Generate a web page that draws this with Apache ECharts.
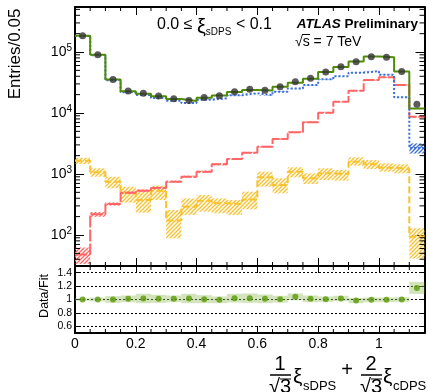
<!DOCTYPE html>
<html>
<head>
<meta charset="utf-8">
<script src="https://cdn.jsdelivr.net/npm/echarts@6/dist/echarts.min.js"></script>
<style>
  html, body { margin: 0; padding: 0; background: #fff; }
  #chart { width: 428px; height: 392px; }
</style>
</head>
<body>
<div id="chart"></div>
<script>
// bin edges of the histogram (width 0.05)
const binEdges = [0, 0.05, 0.1, 0.15, 0.2, 0.25, 0.3, 0.35, 0.4, 0.45, 0.5, 0.55, 0.6, 0.65, 0.7, 0.75, 0.8, 0.85, 0.9, 0.95, 1.0, 1.05, 1.1, 1.15];

// data points (black dots)
const dataCounts = [185000, 90000, 35500, 23000, 21000, 19000, 17200, 16000, 17900, 19200, 22400, 24400, 23500, 27000, 32600, 37000, 47000, 57500, 69000, 84000, 82000, 48000, 13900];
// total fit (green)
const fitTotal = [185000, 90000, 35500, 22800, 20700, 18800, 17000, 15800, 17800, 19300, 22000, 23900, 23300, 26900, 31300, 36600, 46800, 56700, 70000, 84400, 82400, 48000, 11850];
// components
const blueComp = [183000, 88500, 34300, 21800, 19800, 17700, 15900, 14600, 16500, 17400, 19500, 21000, 19600, 22300, 25300, 28700, 35800, 40200, 45800, 48500, 42300, 18200, 2670];
const blueRelErr = [0.01, 0.01, 0.01, 0.01, 0.01, 0.01, 0.01, 0.01, 0.01, 0.01, 0.01, 0.01, 0.01, 0.01, 0.01, 0.01, 0.01, 0.01, 0.01, 0.01, 0.01, 0.01, 0.19];
const redComp = [48, 218, 322, 493, 532, 589, 748, 903, 1090, 1443, 1762, 2234, 2805, 3750, 4830, 7050, 10100, 15300, 23200, 34800, 38500, 28800, 8700];
const redRelErr = [0.3, 0.09, 0.06, 0.05, 0.05, 0.05, 0.04, 0.04, 0.04, 0.04, 0.03, 0.03, 0.03, 0.03, 0.03, 0.03, 0.03, 0.02, 0.02, 0.02, 0.02, 0.02, 0.03];
const yellowComp = [1650, 1067, 748, 493, 375, 532, 172, 291, 365, 331, 322, 380, 883, 661, 1091, 851, 1026, 1000, 1593, 1443, 1271, 1208, 94];
const yellowLo = [1459, 903, 583, 339, 232, 375, 88, 213, 241, 227, 213, 263, 620, 483, 883, 686, 794, 776, 1368, 1208, 1091, 1026, 41];
const yellowHi = [1849, 1240, 903, 620, 513, 645, 257, 398, 453, 398, 375, 513, 1091, 851, 1288, 1026, 1240, 1164, 1879, 1698, 1496, 1443, 129];

// ratio panel
const ratioVals = [1.0, 1.0, 1.0, 1.01, 1.015, 1.01, 1.01, 1.015, 1.005, 0.995, 1.02, 1.02, 1.01, 1.005, 1.04, 1.01, 1.005, 1.015, 0.985, 0.995, 0.995, 1.0, 1.173];
const ratioErr = [0.018, 0.028, 0.05, 0.05, 0.07, 0.06, 0.05, 0.07, 0.06, 0.05, 0.065, 0.07, 0.065, 0.05, 0.05, 0.05, 0.04, 0.04, 0.04, 0.035, 0.035, 0.035, 0.09];

// axis decoration
const xMinorTicks = [0.05, 0.1, 0.15, 0.25, 0.3, 0.35, 0.45, 0.5, 0.55, 0.65, 0.7, 0.75, 0.85, 0.9, 0.95, 1.05, 1.1];
const logMinorTicks = [40, 50, 60, 70, 80, 90,
  200, 300, 400, 500, 600, 700, 800, 900,
  2000, 3000, 4000, 5000, 6000, 7000, 8000, 9000,
  20000, 30000, 40000, 50000, 60000, 70000, 80000, 90000,
  200000, 300000, 400000, 500000];

const FONT = '"Liberation Sans", Arial, sans-serif';
const GREEN = '#4f8a0b';
const BLUE = '#3b6fd6';
const RED = '#ff6767';
const YELLOW = '#f7c22d';

function hatch(color) {
  const c = document.createElement('canvas');
  c.width = 4; c.height = 4;
  const g = c.getContext('2d');
  g.strokeStyle = color;
  g.lineWidth = 1.3;
  g.beginPath();
  g.moveTo(-1, 5); g.lineTo(5, -1);
  g.moveTo(-1, 1); g.lineTo(1, -1);
  g.moveTo(3, 5); g.lineTo(5, 3);
  g.stroke();
  return { image: c, repeat: 'repeat' };
}

function stepData(vals) {
  const pts = vals.map((v, i) => [binEdges[i], v]);
  pts.push([binEdges[vals.length], vals[vals.length - 1]]);
  return pts;
}

function boxData(lo, hi) {
  return lo.map((l, i) => [binEdges[i], binEdges[i + 1], l, hi[i]]);
}

function boxItem(fill) {
  return function (params, api) {
    const a = api.coord([api.value(0), api.value(3)]);
    const b = api.coord([api.value(1), api.value(2)]);
    return {
      type: 'rect',
      shape: { x: a[0], y: a[1], width: b[0] - a[0], height: b[1] - a[1] },
      style: { fill: fill },
      silent: true
    };
  };
}

function xTickItem(len) {
  return function (params, api) {
    const cs = params.coordSys;
    const x = api.coord([api.value(0), api.value(1)])[0];
    const st = { stroke: '#000', lineWidth: 1 };
    return {
      type: 'group', children: [
        { type: 'line', shape: { x1: x, y1: cs.y + cs.height, x2: x, y2: cs.y + cs.height - len }, style: st },
        { type: 'line', shape: { x1: x, y1: cs.y, x2: x, y2: cs.y + len }, style: st }
      ]
    };
  };
}

function yTickItem(len) {
  return function (params, api) {
    const cs = params.coordSys;
    const y = api.coord([api.value(0), api.value(1)])[1];
    const st = { stroke: '#000', lineWidth: 1 };
    return {
      type: 'group', children: [
        { type: 'line', shape: { x1: cs.x, y1: y, x2: cs.x + len, y2: y }, style: st },
        { type: 'line', shape: { x1: cs.x + cs.width, y1: y, x2: cs.x + cs.width - len, y2: y }, style: st }
      ]
    };
  };
}

const centers = dataCounts.map((_, i) => (binEdges[i] + binEdges[i + 1]) / 2);

const frameLine = { show: true, onZero: false, lineStyle: { color: '#000', width: 2 } };

function xAx(grid, pos, tickLen, labels) {
  return {
    type: 'value', gridIndex: grid, position: pos, min: 0, max: 1.15, interval: 0.2,
    axisLine: frameLine,
    axisTick: { show: true, inside: true, length: tickLen, lineStyle: { color: '#000', width: 1 } },
    axisLabel: labels ? {
      show: true, fontSize: 14, fontFamily: FONT, color: '#000', margin: 4,
      showMaxLabel: false, showMinLabel: true
    } : { show: false },
    splitLine: { show: false }
  };
}

const chart = echarts.init(document.getElementById('chart'), null, { renderer: 'canvas' });

const option = {
  animation: false,
  backgroundColor: '#fff',
  textStyle: { fontFamily: FONT },
  grid: [
    { left: 75, top: 7, width: 349.5, height: 259 },
    { left: 75, top: 266, width: 349.5, height: 67 }
  ],
  xAxis: [
    xAx(0, 'bottom', 8, false),
    xAx(0, 'top', 8, false),
    xAx(1, 'bottom', 7, true),
    xAx(1, 'top', 7, false)
  ],
  yAxis: [
    {
      type: 'log', gridIndex: 0, position: 'left', min: 31, max: 547000,
      axisLine: frameLine,
      axisTick: { show: true, inside: true, length: 9, lineStyle: { color: '#000', width: 1 } },
      axisLabel: {
        show: true, margin: 3, color: '#000', showMinLabel: false, showMaxLabel: false,
        formatter: (v) => '{b|10}{p|' + Math.round(Math.log10(v)) + '}',
        rich: {
          b: { fontSize: 14, fontFamily: FONT, color: '#000', lineHeight: 18, verticalAlign: 'middle' },
          p: { fontSize: 10, fontFamily: FONT, color: '#000', lineHeight: 8, verticalAlign: 'top' }
        }
      },
      splitLine: { show: false }
    },
    {
      type: 'log', gridIndex: 0, position: 'right', min: 31, max: 547000,
      axisLine: frameLine,
      axisTick: { show: true, inside: true, length: 9, lineStyle: { color: '#000', width: 1 } },
      axisLabel: { show: false },
      splitLine: { show: false }
    },
    {
      type: 'value', gridIndex: 1, position: 'left', min: 0.5, max: 1.5, splitNumber: 5,
      axisLine: frameLine,
      axisTick: { show: true, inside: true, length: 5, lineStyle: { color: '#000', width: 1 } },
      axisLabel: {
        show: true, fontSize: 10.5, fontFamily: FONT, color: '#000', margin: 3,
        showMinLabel: false, showMaxLabel: false
      },
      splitLine: { show: true, lineStyle: { color: '#000', width: 1, type: [2, 2] } }
    },
    {
      type: 'value', gridIndex: 1, position: 'right', min: 0.5, max: 1.5, splitNumber: 5,
      axisLine: frameLine,
      axisTick: { show: true, inside: true, length: 5, lineStyle: { color: '#000', width: 1 } },
      axisLabel: { show: false },
      splitLine: { show: false }
    }
  ],
  series: [
    // hatched uncertainty bands
    {
      type: 'custom', xAxisIndex: 0, yAxisIndex: 0, z: 1,
      encode: { x: [0, 1], y: [2, 3] },
      renderItem: boxItem(hatch(YELLOW)),
      data: boxData(yellowLo, yellowHi)
    },
    {
      type: 'custom', xAxisIndex: 0, yAxisIndex: 0, z: 1,
      encode: { x: [0, 1], y: [2, 3] },
      renderItem: boxItem(hatch(RED)),
      data: boxData(redComp.map((v, i) => v * (1 - redRelErr[i])), redComp.map((v, i) => v * (1 + redRelErr[i])))
    },
    {
      type: 'custom', xAxisIndex: 0, yAxisIndex: 0, z: 1,
      encode: { x: [0, 1], y: [2, 3] },
      renderItem: boxItem(hatch(BLUE)),
      data: boxData(blueComp.map((v, i) => v * (1 - blueRelErr[i])), blueComp.map((v, i) => v * (1 + blueRelErr[i])))
    },
    // component histograms
    {
      type: 'line', xAxisIndex: 0, yAxisIndex: 0, step: 'end', symbol: 'none', z: 3, silent: true,
      lineStyle: { color: YELLOW, width: 2, type: [7, 3] },
      data: stepData(yellowComp)
    },
    {
      type: 'line', xAxisIndex: 0, yAxisIndex: 0, step: 'end', symbol: 'none', z: 3, silent: true,
      lineStyle: { color: RED, width: 2, type: [12, 2] },
      data: stepData(redComp)
    },
    {
      type: 'line', xAxisIndex: 0, yAxisIndex: 0, step: 'end', symbol: 'none', z: 4, silent: true,
      lineStyle: { color: BLUE, width: 2, type: [2, 2] },
      data: stepData(blueComp)
    },
    {
      type: 'line', xAxisIndex: 0, yAxisIndex: 0, step: 'end', symbol: 'none', z: 5, silent: true,
      lineStyle: { color: GREEN, width: 2 },
      data: stepData(fitTotal)
    },
    {
      type: 'scatter', xAxisIndex: 0, yAxisIndex: 0, z: 6, symbol: 'circle', symbolSize: 7,
      itemStyle: { color: '#333' },
      data: dataCounts.map((v, i) => [centers[i], v])
    },
    // minor ticks
    {
      type: 'custom', xAxisIndex: 0, yAxisIndex: 0, z: 10, silent: true,
      renderItem: xTickItem(4), data: xMinorTicks.map((v) => [v, 1000])
    },
    {
      type: 'custom', xAxisIndex: 0, yAxisIndex: 0, z: 10, silent: true,
      renderItem: yTickItem(5), data: logMinorTicks.map((v) => [0.5, v])
    },
    {
      type: 'custom', xAxisIndex: 2, yAxisIndex: 2, z: 10, silent: true,
      renderItem: xTickItem(4), data: xMinorTicks.map((v) => [v, 1])
    },
    // ratio panel
    {
      type: 'custom', xAxisIndex: 2, yAxisIndex: 2, z: 2,
      encode: { x: [0, 1], y: [2, 3] },
      renderItem: boxItem('rgba(150,190,95,0.42)'),
      data: boxData(ratioVals.map((r, i) => r - ratioErr[i]), ratioVals.map((r, i) => r + ratioErr[i]))
    },
    {
      type: 'scatter', xAxisIndex: 2, yAxisIndex: 2, z: 6, symbol: 'circle', symbolSize: 6,
      itemStyle: { color: '#5a9a08' },
      data: ratioVals.map((r, i) => [centers[i], r])
    }
  ],
  graphic: [
    {
      type: 'text', x: 15.5, y: 54, rotation: Math.PI / 2, z: 100,
      style: { text: 'Entries/0.05', font: '17px ' + FONT, fill: '#000', textAlign: 'center', textVerticalAlign: 'middle', align: 'center', verticalAlign: 'middle' }
    },
    {
      type: 'text', x: 45, y: 296, rotation: Math.PI / 2, z: 100,
      style: { text: 'Data/Fit', font: '12.5px ' + FONT, fill: '#000', textAlign: 'center', textVerticalAlign: 'middle', align: 'center', verticalAlign: 'middle' }
    },
    {
      type: 'text', x: 157, y: 25, z: 100,
      style: {
        text: '{n|0.0 ≤ }{g|ξ}{s|sDPS}{n| < 0.1}',
        textAlign: 'left', textVerticalAlign: 'middle', align: 'left', verticalAlign: 'middle',
        rich: {
          n: { fontSize: 16, fontFamily: FONT, fill: '#000', color: '#000', lineHeight: 22, verticalAlign: 'middle' },
          g: { fontSize: 20, fontFamily: FONT, fill: '#000', color: '#000', lineHeight: 24, verticalAlign: 'bottom' },
          s: { fontSize: 10, fontFamily: FONT, fill: '#000', color: '#000', lineHeight: 8, verticalAlign: 'bottom' }
        }
      }
    },
    {
      type: 'text', x: 418, y: 24.5, z: 100,
      style: {
        text: '{a|ATLAS}{b| Preliminary}',
        textAlign: 'right', textVerticalAlign: 'middle', align: 'right', verticalAlign: 'middle',
        rich: {
          a: { fontSize: 13.5, fontFamily: FONT, fontWeight: 'bold', fontStyle: 'italic', fill: '#000', color: '#000' },
          b: { fontSize: 13.5, fontFamily: FONT, fontWeight: 'bold', fill: '#000', color: '#000' }
        }
      }
    },
    {
      type: 'text', x: 295, y: 42, z: 100,
      style: { text: '√s = 7 TeV', font: '14px ' + FONT, fill: '#000', textAlign: 'left', textVerticalAlign: 'middle', align: 'left', verticalAlign: 'middle' }
    },
    { type: 'line', z: 100, shape: { x1: 302, y1: 34.5, x2: 310, y2: 34.5 }, style: { stroke: '#000', lineWidth: 1 } },
    // x-axis title: 1/sqrt3 xi_sDPS + 2/sqrt3 xi_cDPS
    {
      type: 'text', x: 280, y: 364, z: 100,
      style: { text: '1', font: '20px ' + FONT, fill: '#000', textAlign: 'center', textVerticalAlign: 'middle', align: 'center', verticalAlign: 'middle' }
    },
    { type: 'line', z: 100, shape: { x1: 270, y1: 375, x2: 291, y2: 375 }, style: { stroke: '#000', lineWidth: 1.5 } },
    {
      type: 'text', x: 280, y: 377, z: 100,
      style: { text: '√3', font: '20px ' + FONT, fill: '#000', textAlign: 'center', textVerticalAlign: 'top', align: 'center', verticalAlign: 'top' }
    },
    { type: 'line', z: 100, shape: { x1: 280, y1: 379, x2: 291, y2: 379 }, style: { stroke: '#000', lineWidth: 1 } },
    {
      type: 'text', x: 293, y: 377, z: 100,
      style: { text: 'ξ', font: '21px ' + FONT, fill: '#000', textAlign: 'left', textVerticalAlign: 'middle', align: 'left', verticalAlign: 'middle' }
    },
    {
      type: 'text', x: 303, y: 386, z: 100,
      style: { text: 'sDPS', font: '13px ' + FONT, fill: '#000', textAlign: 'left', textVerticalAlign: 'middle', align: 'left', verticalAlign: 'middle' }
    },
    {
      type: 'text', x: 347, y: 370, z: 100,
      style: { text: '+', font: '20px ' + FONT, fill: '#000', textAlign: 'center', textVerticalAlign: 'middle', align: 'center', verticalAlign: 'middle' }
    },
    {
      type: 'text', x: 371, y: 364, z: 100,
      style: { text: '2', font: '20px ' + FONT, fill: '#000', textAlign: 'center', textVerticalAlign: 'middle', align: 'center', verticalAlign: 'middle' }
    },
    { type: 'line', z: 100, shape: { x1: 361, y1: 375, x2: 382, y2: 375 }, style: { stroke: '#000', lineWidth: 1.5 } },
    {
      type: 'text', x: 371, y: 377, z: 100,
      style: { text: '√3', font: '20px ' + FONT, fill: '#000', textAlign: 'center', textVerticalAlign: 'top', align: 'center', verticalAlign: 'top' }
    },
    { type: 'line', z: 100, shape: { x1: 371, y1: 379, x2: 382, y2: 379 }, style: { stroke: '#000', lineWidth: 1 } },
    {
      type: 'text', x: 383, y: 377, z: 100,
      style: { text: 'ξ', font: '21px ' + FONT, fill: '#000', textAlign: 'left', textVerticalAlign: 'middle', align: 'left', verticalAlign: 'middle' }
    },
    {
      type: 'text', x: 393, y: 386, z: 100,
      style: { text: 'cDPS', font: '13px ' + FONT, fill: '#000', textAlign: 'left', textVerticalAlign: 'middle', align: 'left', verticalAlign: 'middle' }
    }
  ]
};

chart.setOption(option);
</script>
</body>
</html>
